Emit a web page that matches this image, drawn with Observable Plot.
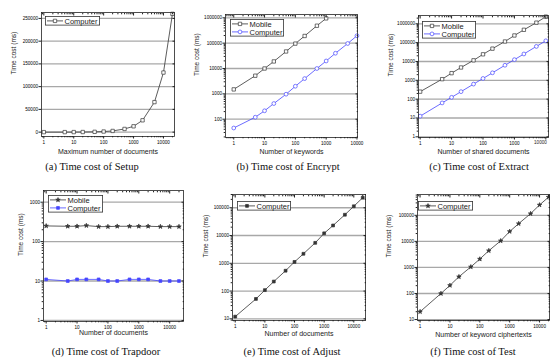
<!DOCTYPE html>
<html><head><meta charset="utf-8">
<script src="https://cdn.jsdelivr.net/npm/d3@7"></script>
<script src="https://cdn.jsdelivr.net/npm/@observablehq/plot@0.6"></script>
<style>
body{margin:0;background:#fff;}
#root{position:relative;width:550px;height:359px;overflow:hidden;font-family:"Liberation Sans",Arial,sans-serif;}
.box{position:absolute;}
.cap{position:absolute;transform:translate(-50%,-50%);font-family:"Liberation Serif","Times New Roman",serif;font-size:10.5px;white-space:nowrap;color:#111;}
.leg{position:absolute;}
.leg svg{display:block;}
</style>
</head><body><div id="root"></div>
<script>
// ---------- data ----------
const docsX = [1,5,10,20,50,100,200,500,1000,2000,5000,10000,20000];
const setupComputer = [13,65,130,260,650,1300,2600,7000,12800,26000,66000,131000,260000];

const encMobileX = [1,5,10,20,50,100,200,500,1000];
const encMobile = [1500,5200,10000,19000,47000,96000,192000,487000,950000];
const encComputerX = [1,5,10,20,50,100,200,500,1000,2000,5000,10000];
const encComputer = [45,120,215,415,970,2000,4000,10000,19800,40000,97000,196000];

const extX = [1,5,10,20,50,100,200,500,1000,2000,5000,10000];
const extMobile = [250,1150,2400,4800,11500,24000,48000,115000,240000,480000,1150000,2400000];
const extComputer = [12.5,63,125,250,630,1250,2500,6300,12500,25000,63000,125000];

const trapMobile = [250,245,245,255,240,240,245,245,245,245,240,240,240];
const trapComputer = [11,10,11,11,11,10,10,11,11,11,10,10,10];

const adjustComputer = [12,52,108,220,540,1120,2200,5450,12000,23000,56000,113000,230000];
const testComputer = [20,100,205,440,1050,2100,4400,10500,24000,48000,116000,250000,500000];

const xTicksLog = [1,10,100,1000,10000];
const yTicksSetup = [0,50000,100000,150000,200000,250000];
const yTicksEnc = [100,1000,10000,100000,1000000];
const yTicksExt = [1,10,100,1000,10000,100000,1000000];
const yTicksTrap = [1,10,100,1000];
const yTicksAdj = [10,100,1000,10000,100000];
const yTicksTest = [10,100,1000,10000,100000];

const captions = ["(a) Time cost of Setup","(b) Time cost of Encrypt","(c) Time cost of Extract",
                  "(d) Time cost of Trapdoor","(e) Time cost of Adjust","(f) Time cost of Test"];
const xTitles = ["Maximum number of documents","Number of keywords","Number of shared documents",
                 "Number of documents","Number of documents","Number of keyword ciphertexts"];
const yTitle = "Time cost (ms)";

const BLACK = "#333", BLUE = "#4646ff";

function minorLog(lo, hi){
  const out=[];
  for(let e=Math.floor(Math.log10(lo)); e<=Math.ceil(Math.log10(hi)); e++){
    for(let m=2;m<=9;m++){const v=m*Math.pow(10,e); if(v>=lo&&v<=hi) out.push(v);}
  }
  return out;
}
const zip = (xs, ys) => xs.map((x,i)=>({x, y: ys[i]}));

function panel(cfg){
  const {box, frame, xDomain, yDomain, yType, yTicks, series, idx, xDy, yDx, legend, capPos, edgeLabel} = cfg;
  const mL = frame.x0-box.L, mR = box.L+box.W-frame.x1, mT = frame.y0-box.T, mB = box.T+box.H-frame.y1;
  const marks = [
    Plot.gridY(yTicks, {stroke:"#a8a8a8", strokeOpacity:1, strokeWidth:1.3}),
  ];
  for(const s of series){
    const d = zip(s.x, s.y);
    marks.push(Plot.line(d, {x:"x", y:"y", stroke:s.color, strokeWidth:0.8}));
    marks.push(Plot.dot(d, {x:"x", y:"y", symbol:s.symbol, r:s.r||1.9, stroke:s.color, strokeWidth:0.7, fill: s.filled ? s.color : "white"}));
  }
  const xMinor = minorLog(xDomain[0], xDomain[1]);
  const xMajor = xTicksLog.filter(v=>v>=xDomain[0]&&v<=xDomain[1]);
  const lastMajor = xMajor[xMajor.length-1];
  marks.push(
    Plot.frame({stroke:"#222", strokeWidth:0.8}),
    Plot.axisX(xMajor, {anchor:"bottom", tickSize:2.5, tickPadding:1.5, fontSize:4.6,
      tickFormat:d=> (edgeLabel && d===lastMajor) ? "" : String(d), label:null, stroke:"#222"}),
    Plot.axisX(xMinor, {anchor:"bottom", tickSize:1.3, tickFormat:()=>"", label:null, stroke:"#222"}),
    Plot.axisX(xMajor, {anchor:"top", tickSize:-2.5, tickFormat:()=>"", label:null, stroke:"#222"}),
    Plot.axisX(xMinor, {anchor:"top", tickSize:-1.3, tickFormat:()=>"", label:null, stroke:"#222"}),
    Plot.axisY(yTicks, {anchor:"left", tickSize:2.5, tickPadding:1, fontSize:4.6, tickFormat:d=>String(d), label:null, stroke:"#222"}),
    Plot.axisY(yTicks, {anchor:"right", tickSize:-2.5, tickFormat:()=>"", label:null, stroke:"#222"}),
    Plot.text([xTitles[idx]], {text:d=>d, frameAnchor:"bottom", dy:xDy, fontSize:7, fill:"#222"}),
    Plot.text([yTitle], {text:d=>d, frameAnchor:"left", dx:-yDx, rotate:-90, fontSize:6.5, fill:"#222"})
  );
  if(edgeLabel){
    marks.push(Plot.text([lastMajor], {x:d=>d, text:d=>String(d), frameAnchor:"bottom", dy:6.5, dx:1, textAnchor:"end", fontSize:4.6, fill:"#222"}));
  }
  if(yType==="log"){
    const yMinor = minorLog(yDomain[0], yDomain[1]);
    marks.push(Plot.axisY(yMinor, {anchor:"left", tickSize:1.3, tickFormat:()=>"", label:null, stroke:"#222"}));
    marks.push(Plot.axisY(yMinor, {anchor:"right", tickSize:-1.3, tickFormat:()=>"", label:null, stroke:"#222"}));
  }
  const svg = Plot.plot({
    width: box.W, height: box.H,
    marginLeft: mL, marginRight: mR, marginTop: mT, marginBottom: mB,
    x: {type:"log", domain:xDomain},
    y: {type:yType, domain:yDomain},
    style: {fontFamily:"'Liberation Sans', Arial, sans-serif", background:"transparent", overflow:"visible"},
    marks
  });
  const wrap = document.createElement("div");
  wrap.className = "box";
  wrap.style.left = box.L+"px"; wrap.style.top = box.T+"px";
  wrap.appendChild(svg);
  root.appendChild(wrap);

  // legend (small SVG box)
  const rowH = 8, W = legend.w, H = series.length*rowH + 1.5;
  let inner = `<rect x="0.4" y="0.4" width="${W-0.8}" height="${H-0.8}" fill="white" stroke="#333" stroke-width="0.8"/>`;
  series.forEach((s,i)=>{
    const cy = 0.9 + rowH*i + rowH/2;
    const symType = {square:d3.symbolSquare, circle:d3.symbolCircle, star:d3.symbolStar}[s.symbol];
    const p = d3.symbol(symType, Math.PI*Math.pow(s.r||1.9,2))();
    inner += `<line x1="2" x2="18" y1="${cy}" y2="${cy}" stroke="${s.color}" stroke-width="0.8"/>`+
             `<path d="${p}" transform="translate(10,${cy})" fill="${s.filled?s.color:'white'}" stroke="${s.color}" stroke-width="0.7"/>`+
             `<text x="19.5" y="${cy}" dy="0.36em" fill="#222" font-size="7.5" font-family="'Liberation Sans', Arial, sans-serif">${s.name}</text>`;
  });
  const lg = document.createElement("div");
  lg.className = "leg";
  lg.style.left = legend.x+"px"; lg.style.top = legend.y+"px";
  lg.innerHTML = `<svg width="${W}" height="${H}" viewBox="0 0 ${W} ${H}">${inner}</svg>`;
  root.appendChild(lg);

  const cap = document.createElement("div");
  cap.className = "cap";
  cap.textContent = captions[idx];
  cap.style.left = capPos[0]+"px"; cap.style.top = capPos[1]+"px";
  root.appendChild(cap);
}

const root = document.getElementById("root");

panel({idx:0, box:{L:0,T:0,W:183,H:160}, frame:{x0:41,x1:174,y0:12,y1:136},
  xDomain:[0.835,23400], yType:"linear", yDomain:[-9600,263000], yTicks:yTicksSetup, xDy:17, yDx:28,
  series:[{name:"Computer", x:docsX, y:setupComputer, color:BLACK, symbol:"square"}],
  legend:{x:45,y:16,w:55}, capPos:[92,166]});

panel({idx:1, box:{L:183,T:0,W:183,H:160}, frame:{x0:225,x1:357,y0:14,y1:137},
  xDomain:[0.54,10400], yType:"log", yDomain:[19,1.35e6], yTicks:yTicksEnc, xDy:16, yDx:29,
  series:[{name:"Mobile", x:encMobileX, y:encMobile, color:BLACK, symbol:"square"},
          {name:"Computer", x:encComputerX, y:encComputer, color:BLUE, symbol:"circle"}],
  legend:{x:230,y:19,w:54}, capPos:[288,166]});

panel({idx:2, box:{L:366,T:0,W:184,H:160}, frame:{x0:418,x1:548,y0:15,y1:137},
  xDomain:[0.885,12150], yType:"log", yDomain:[0.92,2.76e6], yTicks:yTicksExt, xDy:16, yDx:28, edgeLabel:true,
  series:[{name:"Mobile", x:extX, y:extMobile, color:BLACK, symbol:"square"},
          {name:"Computer", x:extX, y:extComputer, color:BLUE, symbol:"circle"}],
  legend:{x:422,y:21,w:54}, capPos:[479,166]});

panel({idx:3, box:{L:0,T:178,W:185,H:172}, frame:{x0:43,x1:183,y0:190,y1:321},
  xDomain:[0.82,28000], yType:"log", yDomain:[0.94,1980], yTicks:yTicksTrap, xDy:13, yDx:23,
  series:[{name:"Mobile", x:docsX, y:trapMobile, color:BLACK, symbol:"star", filled:true, r:1.4},
          {name:"Computer", x:docsX, y:trapComputer, color:BLUE, symbol:"square", filled:true, r:1.6}],
  legend:{x:48,y:195,w:55}, capPos:[106,351]});

panel({idx:4, box:{L:183,T:178,W:183,H:172}, frame:{x0:232,x1:365,y0:194,y1:320},
  xDomain:[0.81,24800], yType:"log", yDomain:[8.7,3e5], yTicks:yTicksAdj, xDy:15, yDx:27,
  series:[{name:"Computer", x:docsX, y:adjustComputer, color:BLACK, symbol:"square", filled:true, r:1.6}],
  legend:{x:237,y:201,w:54}, capPos:[292,351]});

panel({idx:5, box:{L:366,T:178,W:184,H:172}, frame:{x0:417,x1:549,y0:194,y1:320},
  xDomain:[0.82,21500], yType:"log", yDomain:[9.2,6.3e5], yTicks:yTicksTest, xDy:16, yDx:29,
  series:[{name:"Computer", x:docsX, y:testComputer, color:BLACK, symbol:"star", filled:true, r:1.4}],
  legend:{x:418,y:201,w:55}, capPos:[473,351]});
</script>
</body></html>
